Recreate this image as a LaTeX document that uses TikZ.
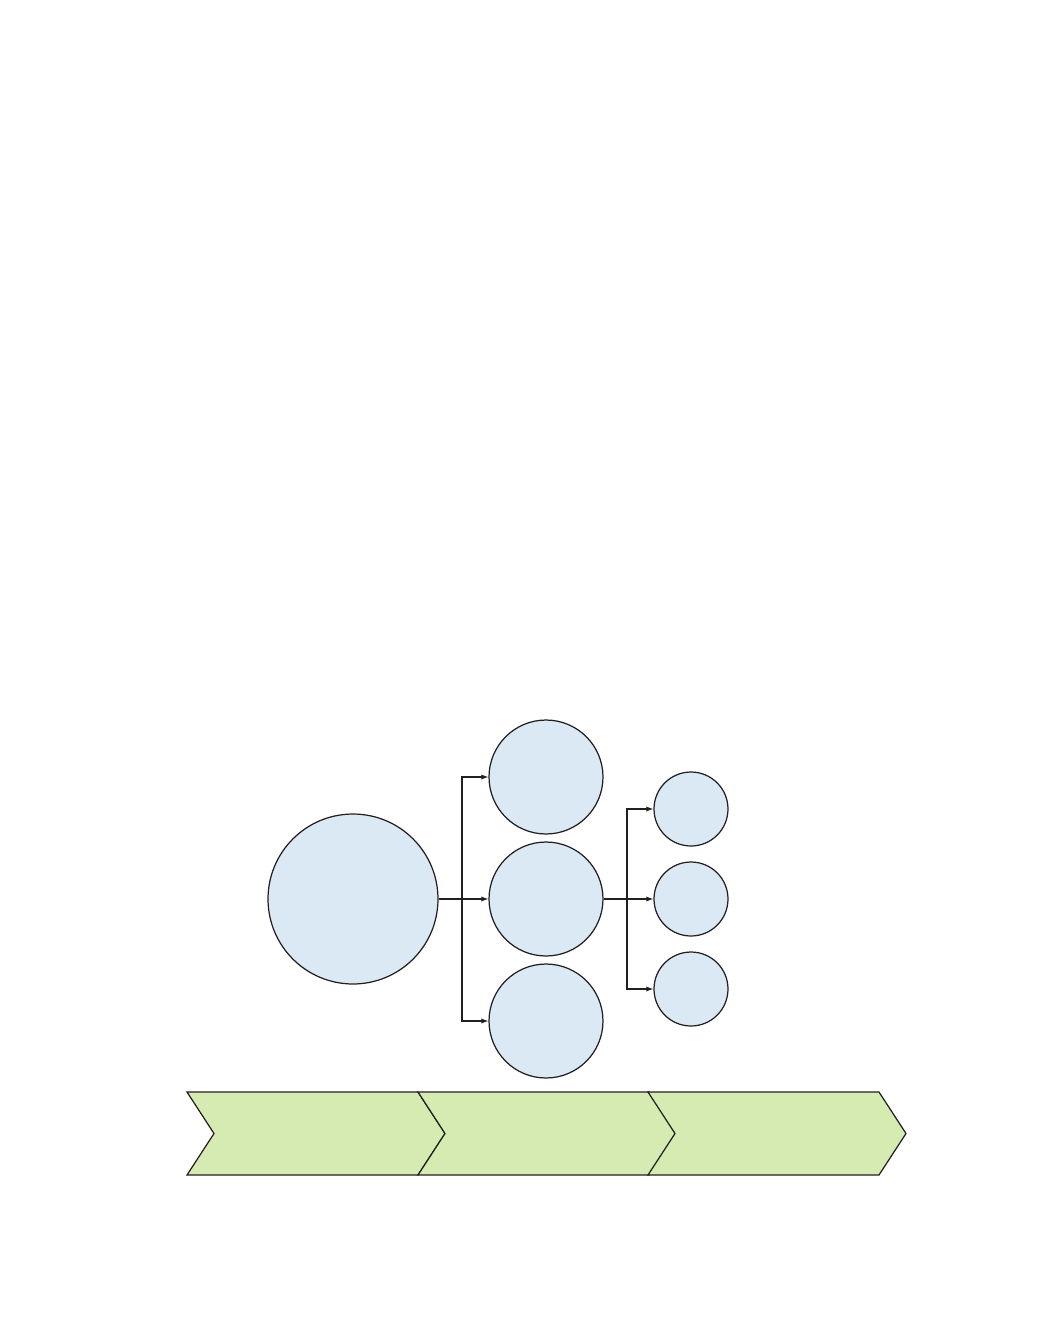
\documentclass[tikz,border=0pt]{standalone}
\usepackage{tikz}
\usepackage{xcolor}
\definecolor{bubbleblue}{RGB}{219, 233, 245}
\definecolor{stagegreen}{RGB}{213, 235, 177}
\definecolor{linegray}{RGB}{35, 31, 32}
\usetikzlibrary{calc,positioning,arrows.meta}

\begin{document}
\begin{tikzpicture}[x=0.02cm,y=-0.02cm,
    bubble/.style={circle, draw=linegray, line width=0.7pt, fill=bubbleblue, inner sep=0pt},
    link/.style={draw=linegray, line width=0.7pt},
    linkarrow/.style={link, -{Latex[length=4pt,width=3pt]}}]
    \useasboundingbox (0,0) rectangle (1063,1333);

    % Root bubble
    \node[bubble, minimum size=3.4cm] (root) at (353, 899) {};

    % Second level
    \node[bubble, minimum size=2.28cm] (midA) at (546, 777) {};
    \node[bubble, minimum size=2.28cm] (midB) at (546, 899) {};
    \node[bubble, minimum size=2.28cm] (midC) at (546, 1021) {};

    % Third level
    \node[bubble, minimum size=1.48cm] (leafA) at (691, 809) {};
    \node[bubble, minimum size=1.48cm] (leafB) at (691, 899) {};
    \node[bubble, minimum size=1.48cm] (leafC) at (691, 989) {};

    % Branching connectors
    \coordinate (splitA) at (462, 899);
    \coordinate (splitB) at (627, 899);
    \draw[link] (root.east) -- (splitA);
    \draw[linkarrow] (splitA) |- (midA.west);
    \draw[linkarrow] (splitA) -- (midB.west);
    \draw[linkarrow] (splitA) |- (midC.west);
    \draw[link] (midB.east) -- (splitB);
    \draw[linkarrow] (splitB) |- (leafA.west);
    \draw[linkarrow] (splitB) -- (leafB.west);
    \draw[linkarrow] (splitB) |- (leafC.west);

    % Stage chevrons
    \foreach \x in {187, 418, 648} {
        \draw[draw=linegray, line width=0.7pt, fill=stagegreen, line join=miter]
            (\x, 1092) -- (\x+231, 1092) -- (\x+258, 1133.5) -- (\x+231, 1175)
            -- (\x, 1175) -- (\x+27, 1133.5) -- cycle;
    }
\end{tikzpicture}
\end{document}
